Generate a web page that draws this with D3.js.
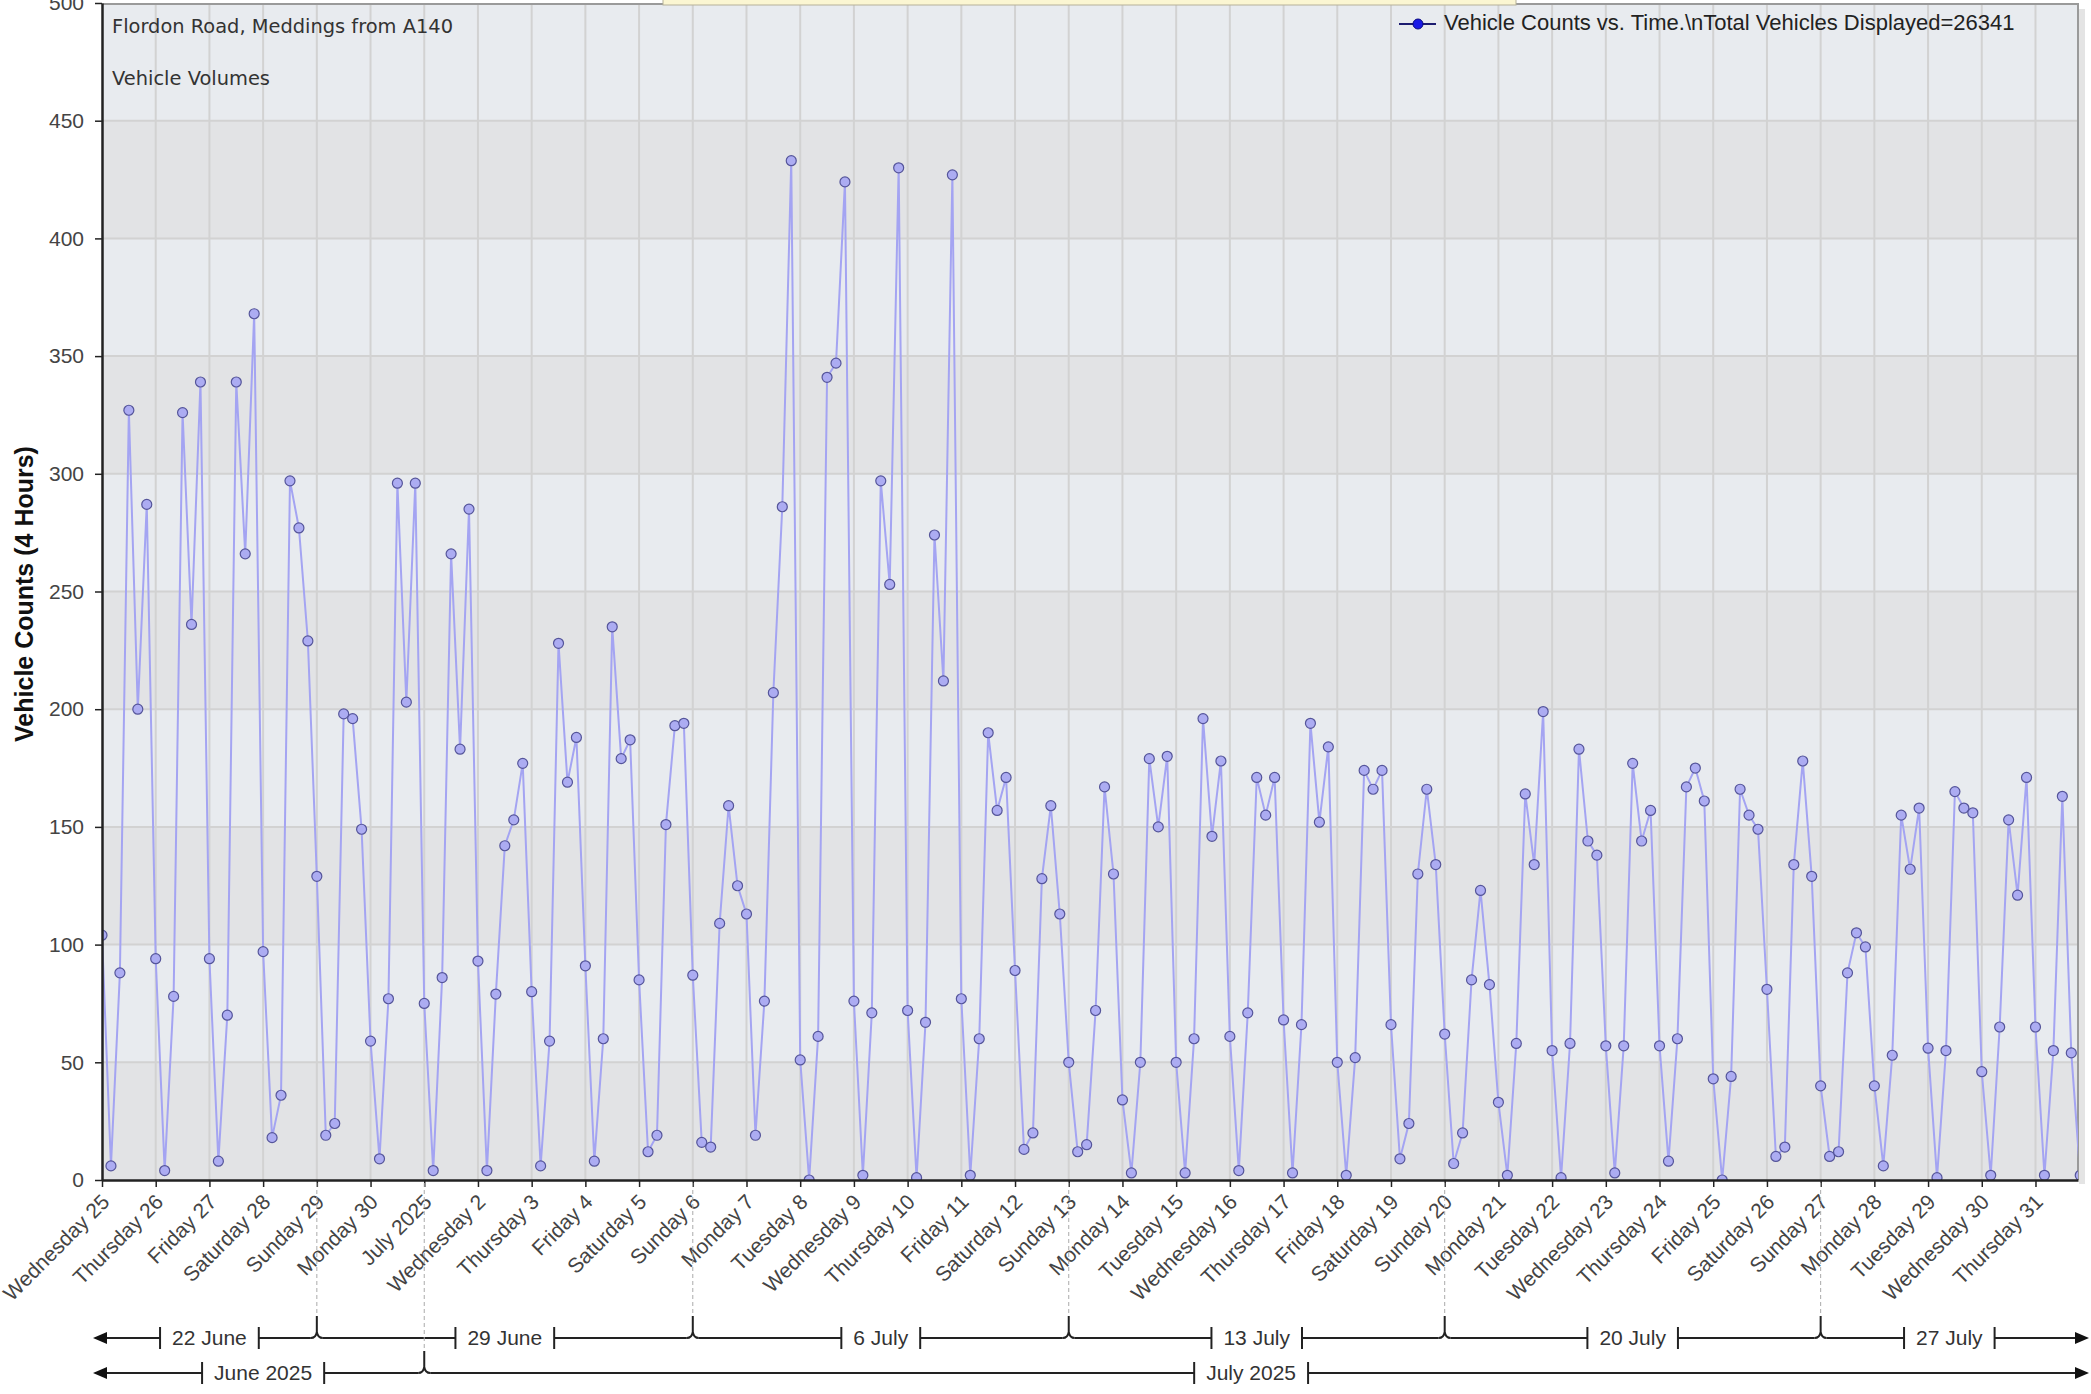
<!DOCTYPE html>
<html>
<head>
<meta charset="utf-8">
<script src="https://cdn.jsdelivr.net/npm/d3@7"></script>
<style>
body { margin: 0; background: #fff; }
svg { display: block; }
</style>
</head>
<body>
<svg id="chart" width="2091" height="1394"></svg>
<script>
// first sample and sampling step of the counts (4 hour bins)
var startTime = new Date(2025, 5, 25, 0, 0);
var endTime = new Date(2025, 6, 31, 19, 0);
var stepHours = 4;

// one line per day, bins at 00, 04, 08, 12, 16, 20
var counts = [
  104, 6, 88, 327, 200, 287,   // Wed 25 Jun
  94, 4, 78, 326, 236, 339,    // Thu 26
  94, 8, 70, 339, 266, 368,    // Fri 27
  97, 18, 36, 297, 277, 229,   // Sat 28
  129, 19, 24, 198, 196, 149,  // Sun 29
  59, 9, 77, 296, 203, 296,    // Mon 30
  75, 4, 86, 266, 183, 285,    // Tue 1 Jul
  93, 4, 79, 142, 153, 177,    // Wed 2
  80, 6, 59, 228, 169, 188,    // Thu 3
  91, 8, 60, 235, 179, 187,    // Fri 4
  85, 12, 19, 151, 193, 194,   // Sat 5
  87, 16, 14, 109, 159, 125,   // Sun 6
  113, 19, 76, 207, 286, 433,  // Mon 7
  51, 0, 61, 341, 347, 424,    // Tue 8
  76, 2, 71, 297, 253, 430,    // Wed 9
  72, 1, 67, 274, 212, 427,    // Thu 10
  77, 2, 60, 190, 157, 171,    // Fri 11
  89, 13, 20, 128, 159, 113,   // Sat 12
  50, 12, 15, 72, 167, 130,    // Sun 13
  34, 3, 50, 179, 150, 180,    // Mon 14
  50, 3, 60, 196, 146, 178,    // Tue 15
  61, 4, 71, 171, 155, 171,    // Wed 16
  68, 3, 66, 194, 152, 184,    // Thu 17
  50, 2, 52, 174, 166, 174,    // Fri 18
  66, 9, 24, 130, 166, 134,    // Sat 19
  62, 7, 20, 85, 123, 83,      // Sun 20
  33, 2, 58, 164, 134, 199,    // Mon 21
  55, 1, 58, 183, 144, 138,    // Tue 22
  57, 3, 57, 177, 144, 157,    // Wed 23
  57, 8, 60, 167, 175, 161,    // Thu 24
  43, 0, 44, 166, 155, 149,    // Fri 25
  81, 10, 14, 134, 178, 129,   // Sat 26
  40, 10, 12, 88, 105, 99,     // Sun 27
  40, 6, 53, 155, 132, 158,    // Mon 28
  56, 1, 55, 165, 158, 156,    // Tue 29
  46, 2, 65, 153, 121, 171,    // Wed 30
  65, 2, 55, 163, 54, 2        // Thu 31
];

var yTicks = [0, 50, 100, 150, 200, 250, 300, 350, 400, 450, 500];

var weekStarts = [new Date(2025, 5, 29), new Date(2025, 6, 6), new Date(2025, 6, 13),
                  new Date(2025, 6, 20), new Date(2025, 6, 27)];
var weekLabels = ["22 June", "29 June", "6 July", "13 July", "20 July", "27 July"];
var monthStarts = [new Date(2025, 6, 1)];
var monthLabels = ["June 2025", "July 2025"];

var titleLines = ["Flordon Road, Meddings from A140", "Vehicle Volumes"];
var legendText = "Vehicle Counts vs. Time.\\nTotal Vehicles Displayed=26341";
var yTitle = "Vehicle Counts (4 Hours)";

var svg = d3.select("#chart");
var plotL = 102, plotR = 2078, plotT = 3, plotB = 1180;
var sans = "Liberation Sans, Arial, sans-serif";

var x = d3.scaleTime().domain([startTime, endTime]).range([plotL, plotR]);
var y = d3.scaleLinear().domain([0, 500]).range([plotB, plotT]);

var data = counts.map(function(v, i) {
  return { t: d3.timeHour.offset(startTime, i * stepHours), v: v };
});

// shadow + background bands
svg.append("rect")
  .attr("x", plotR + 1).attr("y", 9).attr("width", 6).attr("height", plotB - 5)
  .attr("fill", "#e4e4e4");
var bands = d3.range(0, 500, 50);
svg.selectAll(".band").data(bands).enter().append("rect")
  .attr("x", plotL).attr("width", plotR - plotL)
  .attr("y", function(d) { return y(d + 50); })
  .attr("height", function(d) { return y(d) - y(d + 50); })
  .attr("fill", function(d) { return (d / 50) % 2 ? "#e8ebef" : "#e2e3e5"; });

// grid
var days = d3.timeDay.range(startTime, endTime);
svg.append("g").selectAll("line").data(days.slice(1)).enter().append("line")
  .attr("x1", function(d) { return x(d); }).attr("x2", function(d) { return x(d); })
  .attr("y1", plotT).attr("y2", plotB)
  .attr("stroke", "#d2d2d2").attr("stroke-width", 2);
svg.append("g").selectAll("line").data(yTicks.slice(1, -1)).enter().append("line")
  .attr("x1", plotL).attr("x2", plotR)
  .attr("y1", function(d) { return y(d); }).attr("y2", function(d) { return y(d); })
  .attr("stroke", "#d2d2d2").attr("stroke-width", 2);

// frame top / right
svg.append("line").attr("x1", plotL).attr("x2", plotR).attr("y1", plotT + 1).attr("y2", plotT + 1)
  .attr("stroke", "#9a9a9a").attr("stroke-width", 2);
svg.append("line").attr("x1", plotR).attr("x2", plotR).attr("y1", plotT).attr("y2", plotB)
  .attr("stroke", "#9a9a9a").attr("stroke-width", 2);

// tooltip stub at the top edge
svg.append("rect").attr("x", 663).attr("y", -3).attr("width", 853).attr("height", 8)
  .attr("fill", "#fbf6d2").attr("stroke", "#b5b19a").attr("stroke-width", 1);

// series
svg.append("clipPath").attr("id", "plotclip").append("rect")
  .attr("x", plotL).attr("y", plotT).attr("width", plotR - plotL).attr("height", plotB - plotT);

var line = d3.line().x(function(d) { return x(d.t); }).y(function(d) { return y(d.v); });
var series = svg.append("g").attr("clip-path", "url(#plotclip)");
series.append("path").datum(data)
  .attr("d", line)
  .attr("fill", "none")
  .attr("stroke", "#a4a4f2").attr("stroke-width", 2);
series.selectAll("circle").data(data).enter().append("circle")
  .attr("cx", function(d) { return x(d.t); })
  .attr("cy", function(d) { return y(d.v); })
  .attr("r", 5)
  .attr("fill", "#acacf2").attr("stroke", "#55559a").attr("stroke-width", 1.2);

// axes
var yAxis = svg.append("g").attr("transform", "translate(" + plotL + ",0)")
  .call(d3.axisLeft(y).tickValues(yTicks).tickSize(7).tickPadding(11).tickSizeOuter(0));
yAxis.selectAll("text").attr("font-family", sans)
  .attr("font-size", 21).attr("fill", "#444");

var dayFmt = d3.timeFormat("%A %-d"), monFmt = d3.timeFormat("%B %Y");
var xAxis = svg.append("g").attr("transform", "translate(0," + plotB + ")")
  .call(d3.axisBottom(x).tickValues(days)
    .tickFormat(function(d) { return d.getDate() === 1 ? monFmt(d) : dayFmt(d); })
    .tickSize(7).tickSizeOuter(0));
xAxis.selectAll("text")
  .attr("font-family", sans)
  .attr("font-size", 21).attr("fill", "#444")
  .attr("text-anchor", "end")
  .attr("y", 0).attr("dy", "0.35em")
  .attr("transform", "translate(3,18) rotate(-45)");

[yAxis, xAxis].forEach(function(a) {
  a.select(".domain").attr("stroke", "#222").attr("stroke-width", 2.5);
  a.selectAll(".tick line").attr("stroke", "#222").attr("stroke-width", 1.5);
});

// titles
svg.append("text").attr("x", 112).attr("y", 33)
  .attr("font-family", "DejaVu Sans, sans-serif").attr("font-size", 19)
  .attr("textLength", 341).attr("lengthAdjust", "spacingAndGlyphs")
  .attr("fill", "#333").text(titleLines[0]);
svg.append("text").attr("x", 112).attr("y", 85)
  .attr("font-family", "DejaVu Sans, sans-serif").attr("font-size", 19)
  .attr("textLength", 158).attr("lengthAdjust", "spacingAndGlyphs")
  .attr("fill", "#333").text(titleLines[1]);

svg.append("text")
  .attr("transform", "translate(33,594) rotate(-90)")
  .attr("text-anchor", "middle")
  .attr("font-family", sans).attr("font-size", 25)
  .attr("font-weight", "bold").attr("fill", "#111")
  .text(yTitle);

// legend
svg.append("line").attr("x1", 1399).attr("x2", 1436).attr("y1", 24).attr("y2", 24)
  .attr("stroke", "#1c1c70").attr("stroke-width", 2);
svg.append("circle").attr("cx", 1418).attr("cy", 24).attr("r", 5)
  .attr("fill", "#1a1ae6").attr("stroke", "#0a0a80");
svg.append("text").attr("x", 1444).attr("y", 30)
  .attr("font-family", sans).attr("font-size", 22)
  .attr("fill", "#222").text(legendText);

// period bracket rows below the axis
function bracketRow(rowY, bounds, labels, riseTop) {
  var g = svg.append("g").attr("stroke", "#222").attr("stroke-width", 2).attr("fill", "none");
  var edges = [plotL].concat(bounds.map(x), [plotR]);
  var pieces = [], cursor = 106;
  labels.forEach(function(lab, i) {
    var cx = (edges[i] + edges[i + 1]) / 2;
    var t = svg.append("text").attr("x", cx).attr("y", rowY + 7)
      .attr("text-anchor", "middle")
      .attr("font-family", sans).attr("font-size", 21)
      .attr("fill", "#333").text(lab);
    var w = t.node().getComputedTextLength();
    var capL = cx - w / 2 - 12, capR = cx + w / 2 + 12;
    pieces.push([cursor, capL]);
    [capL, capR].forEach(function(c) {
      g.append("line").attr("x1", c).attr("x2", c).attr("y1", rowY - 11).attr("y2", rowY + 11);
    });
    cursor = capR;
    if (i < bounds.length) {
      var b = edges[i + 1];
      pieces.push([cursor, b - 6]);
      g.append("path").attr("d",
        "M" + (b - 6) + "," + rowY + " Q" + (b - 1) + "," + rowY + " " + b + "," + (rowY - 6) +
        " L" + b + "," + riseTop +
        " M" + (b + 6) + "," + rowY + " Q" + (b + 1) + "," + rowY + " " + b + "," + (rowY - 6));
      svg.append("line").attr("x1", b).attr("x2", b).attr("y1", plotB + 3).attr("y2", riseTop)
        .attr("stroke", "#aaa").attr("stroke-width", 1).attr("stroke-dasharray", "4,3");
      cursor = b + 6;
    }
  });
  pieces.push([cursor, 2076]);
  pieces.forEach(function(p) {
    g.append("line").attr("x1", p[0]).attr("x2", p[1]).attr("y1", rowY).attr("y2", rowY);
  });
  svg.append("path").attr("fill", "#111")
    .attr("d", "M93," + rowY + " L107," + (rowY - 6) + " L107," + (rowY + 6) + "Z");
  svg.append("path").attr("fill", "#111")
    .attr("d", "M2089," + rowY + " L2075," + (rowY - 6) + " L2075," + (rowY + 6) + "Z");
}

bracketRow(1338, weekStarts, weekLabels, 1316);
bracketRow(1373, monthStarts, monthLabels, 1351);
</script>
</body>
</html>
